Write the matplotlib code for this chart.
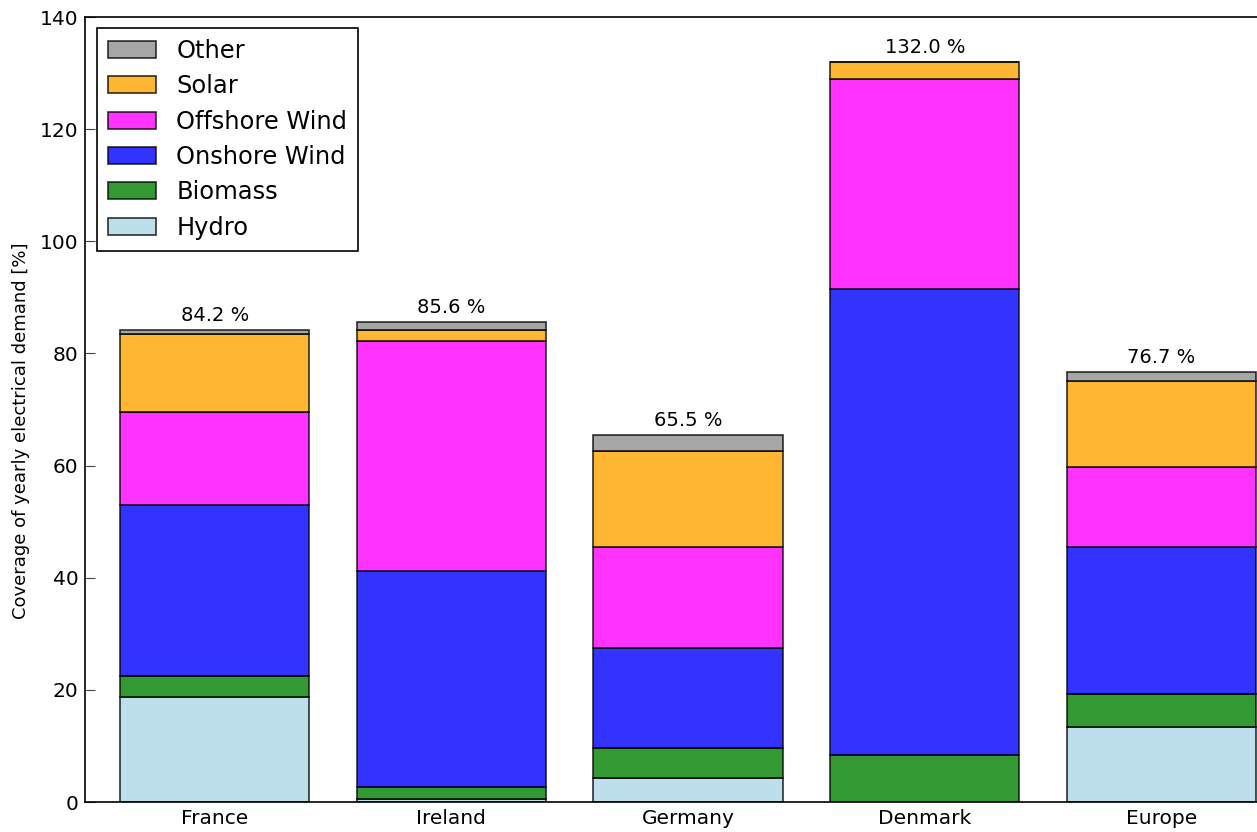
import numpy as np
import matplotlib
matplotlib.use('Agg')
import matplotlib.pyplot as plt

countries = ['France', 'Ireland', 'Germany', 'Denmark', 'Europe']
hydro = [18.7, 0.6, 4.3, 0.0, 13.4]
biomass = [3.8, 2.1, 5.4, 8.4, 5.8]
onshore = [30.5, 38.5, 17.8, 83.1, 26.3]
offshore = [16.6, 41.0, 18.0, 37.5, 14.3]
solar = [13.9, 2.0, 17.1, 3.0, 15.3]
other = [0.7, 1.4, 2.9, 0.0, 1.6]

series = [('Hydro', hydro, 'lightblue'),
          ('Biomass', biomass, 'green'),
          ('Onshore Wind', onshore, 'blue'),
          ('Offshore Wind', offshore, 'magenta'),
          ('Solar', solar, 'orange'),
          ('Other', other, '#909090')]

fig = plt.figure(figsize=(12.57, 8.32), dpi=100)
ax = fig.add_axes([0.0676, 0.036, 0.960, 0.9435])

x = np.arange(len(countries))
bottom = np.zeros(len(countries))
for name, vals, col in series:
    vals = np.array(vals)
    ax.bar(x, vals, 0.8, bottom=bottom, color=col, alpha=0.8,
           edgecolor='k', linewidth=1.2, label=name)
    bottom += vals

for xi, tot in zip(x, bottom):
    ax.text(xi, tot + 0.9, '%.1f %%' % tot, ha='center', va='bottom', fontsize=14)

ax.set_xlim(-0.548, 4.55)
ax.set_ylim(0, 140)
ax.set_yticks(range(0, 141, 20))
ax.set_xticks(x)
ax.set_xticklabels(countries, fontsize=14.5)
ax.tick_params(axis='y', labelsize=14.5, direction='in', length=7, pad=4.5,
               right=False, color='#444444')
ax.tick_params(axis='x', length=0, pad=5)
ax.set_ylabel('Coverage of yearly electrical demand [%]', fontsize=13)
ax.yaxis.set_label_coords(-0.0457, 0.473)

handles, labels = ax.get_legend_handles_labels()
leg = ax.legend(handles[::-1], labels[::-1], loc='upper left', fontsize=17.4,
                fancybox=False, edgecolor='k', framealpha=1, borderaxespad=0,
                bbox_to_anchor=(0.0099, 0.986), handlelength=2.0, handleheight=0.7,
                labelspacing=0.47, handletextpad=0.83, borderpad=0.45)
leg.get_frame().set_linewidth(1.2)

for s in ax.spines.values():
    s.set_linewidth(1.2)

fig.savefig('out.png', dpi=100)
